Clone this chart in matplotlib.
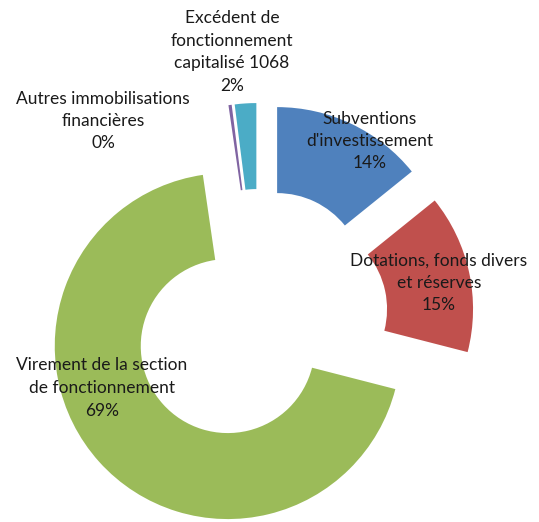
import matplotlib
matplotlib.use("Agg")
import matplotlib.pyplot as plt

# data
categories = ["Subventions\nd'investissement",
              "Dotations, fonds divers\net réserves",
              "Virement de la section\nde fonctionnement",
              "Autres immobilisations\nfinancières",
              "Excédent de\nfonctionnement\ncapitalisé 1068"]
shares = [14.2, 14.8, 68.7, 0.3, 2.0]
pct_labels = ["14%", "15%", "69%", "0%", "2%"]
colors = ["#4F81BD", "#C0504D", "#9BBB59", "#8064A2", "#4BACC6"]

# layout in pixel units (centre of the un-exploded donut at px 259,318)
cx, cy = 259, 318
radius = 173
label_pos = [(370, 141), (439, 283), (102, 388), (103, 121), (232, 52)]

fig = plt.figure(figsize=(5.39, 5.22), dpi=100)
ax = fig.add_axes([0, 0, 1, 1])
ax.pie(shares, colors=colors, startangle=90, counterclock=False,
       radius=radius, explode=[42] * len(shares),
       wedgeprops=dict(width=86, linewidth=0))
ax.set_xlim(-cx, 539 - cx)
ax.set_ylim(cy - 522, cy)
ax.set_aspect("equal")
ax.axis("off")

for cat, pct, (px, py) in zip(categories, pct_labels, label_pos):
    ax.text(px - cx, cy - py, cat + "\n" + pct, ha="center", va="center",
            fontsize=12.5, family="Lato", color="#1a1a1a", linespacing=1.5)

fig.savefig("out.png", dpi=100)
